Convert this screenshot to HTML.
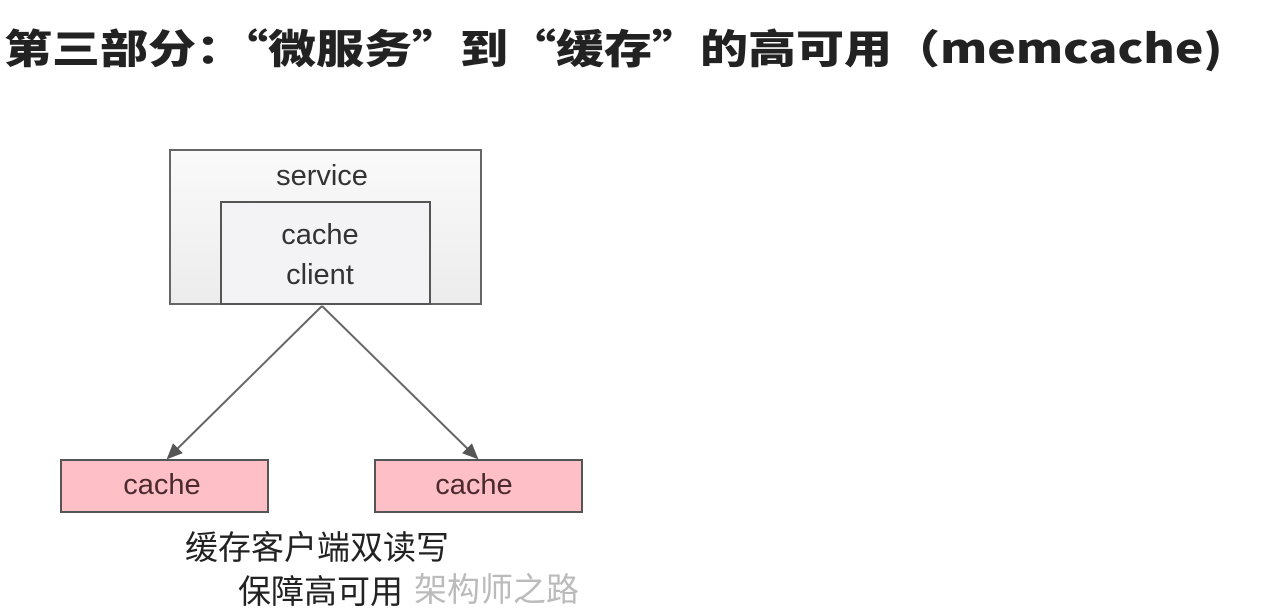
<!DOCTYPE html>
<html><head><meta charset="utf-8"><style>
body{margin:0;width:1261px;height:595px;background:#fff;overflow:hidden;position:relative;font-family:"Liberation Sans","Noto Sans CJK SC",sans-serif}
.t{position:absolute;white-space:nowrap}
</style></head><body>
<div class="t" style="left:4px;top:17px;font-size:40px;font-weight:900;color:#222;transform:scaleX(1.2);transform-origin:0 0;font-family:'Noto Sans CJK SC',sans-serif">第三部分：“微服务”到“缓存”的高可用（memcache)</div>
<svg width="1261" height="595" style="position:absolute;left:0;top:0">
<defs><marker id="a" markerWidth="16" markerHeight="14" refX="14" refY="7" orient="auto" markerUnits="userSpaceOnUse"><path d="M0,0 L16,7 L0,14 z" fill="#555"/></marker>
<linearGradient id="g" x1="0" y1="0" x2="0" y2="1"><stop offset="0" stop-color="#fafafa"/><stop offset="1" stop-color="#ececec"/></linearGradient></defs>
<rect x="170" y="150" width="311" height="154" fill="url(#g)" stroke="#666" stroke-width="2"/>
<rect x="221" y="202" width="209" height="102" fill="#f3f3f5" stroke="#555" stroke-width="2"/>
<line x1="322" y1="306" x2="168" y2="458" stroke="#666" stroke-width="2" marker-end="url(#a)"/>
<line x1="322" y1="306" x2="477" y2="458" stroke="#666" stroke-width="2" marker-end="url(#a)"/>
<rect x="61" y="460" width="207" height="52" fill="#ffbfc6" stroke="#555" stroke-width="2"/>
<rect x="375" y="460" width="207" height="52" fill="#ffbfc6" stroke="#555" stroke-width="2"/>
<text x="322" y="185" font-size="29" text-anchor="middle" fill="#333" font-family="Liberation Sans">service</text>
<text x="320" y="244" font-size="29" text-anchor="middle" fill="#333" font-family="Liberation Sans">cache</text>
<text x="320" y="284" font-size="29" text-anchor="middle" fill="#333" font-family="Liberation Sans">client</text>
<text x="162" y="494" font-size="29" text-anchor="middle" fill="#4a2a2e" font-family="Liberation Sans">cache</text>
<text x="474" y="494" font-size="29" text-anchor="middle" fill="#4a2a2e" font-family="Liberation Sans">cache</text>
</svg>
<div class="t" style="left:185px;top:521px;font-size:33px;color:#222;font-family:'Noto Sans CJK SC',sans-serif">缓存客户端双读写</div>
<div class="t" style="left:238px;top:565px;font-size:33px;color:#222;font-family:'Noto Sans CJK SC',sans-serif">保障高可用</div>
<div class="t" style="left:414px;top:563px;font-size:33px;color:#bbb;font-family:'Noto Sans CJK SC',sans-serif">架构师之路</div>
</body></html>
